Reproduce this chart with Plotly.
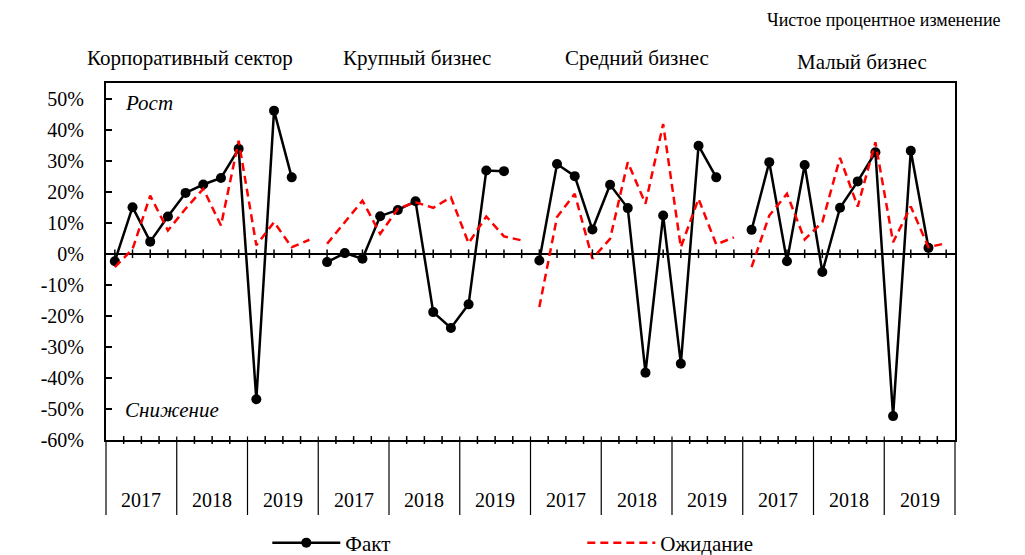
import plotly.graph_objects as go

# ---- data ----
groups = ["Корпоративный сектор", "Крупный бизнес", "Средний бизнес", "Малый бизнес"]
years = ["2017", "2018", "2019"]
quarters_per_year = 4

fact_corp = [-2.4, 15.0, 3.9, 12.0, 19.6, 22.3, 24.4, 33.8, -46.9, 46.1, 24.6]
fact_large = [-2.7, 0.2, -1.6, 12.1, 14.1, 16.9, -18.8, -23.9, -16.3, 26.8, 26.6]
fact_mid = [-2.2, 28.9, 25.0, 7.8, 22.2, 14.7, -38.3, 12.3, -35.4, 34.8, 24.6]
fact_small = [7.7, 29.5, -2.4, 28.6, -5.9, 14.8, 23.3, 32.7, -52.3, 33.2, 1.9]

exp_corp = [-4.3, 1.5, 18.7, 7.5, 14.5, 20.9, 9.1, 36.4, 2.7, 10.2, 2.1, 4.5]
exp_large = [3.2, 10.2, 17.1, 6.4, 14.5, 16.6, 14.8, 18.2, 3.4, 12.0, 5.6, 4.3]
exp_mid = [-17.2, 11.8, 19.3, -1.6, 4.8, 29.5, 16.1, 41.8, 2.1, 17.7, 3.0, 5.3]
exp_small = [-4.3, 12.3, 19.3, 4.6, 10.2, 30.9, 15.2, 35.9, 3.7, 15.2, 2.1, 3.4]

fact_series = [fact_corp, fact_large, fact_mid, fact_small]
exp_series = [exp_corp, exp_large, exp_mid, exp_small]

y_ticks = [50, 40, 30, 20, 10, 0, -10, -20, -30, -40, -50, -60]
y_ticktext = [f"{v}%" for v in y_ticks]

n_per_group = len(years) * quarters_per_year
n_total = n_per_group * len(groups)

# ---- build traces (gaps between groups) ----
fx, fy, ex, ey = [], [], [], []
for g in range(len(groups)):
    base = g * n_per_group
    for i, v in enumerate(fact_series[g]):
        fx.append(base + i); fy.append(v)
    fx.append(None); fy.append(None)
    for i, v in enumerate(exp_series[g]):
        ex.append(base + i); ey.append(v)
    ex.append(None); ey.append(None)

FONT = "Liberation Serif, Times New Roman, serif"

fig = go.Figure()
fig.add_trace(go.Scatter(
    x=fx, y=fy, mode="lines+markers", name="Факт",
    line=dict(color="black", width=2.5),
    marker=dict(symbol="circle", size=10, color="black"),
    connectgaps=False,
))
fig.add_trace(go.Scatter(
    x=ex, y=ey, mode="lines", name="Ожидание",
    line=dict(color="#FF0000", width=2.5, dash="8px,5px"),
    connectgaps=False,
))

shapes = []
# ticks on the zero line at category centres
for i in range(n_total):
    shapes.append(dict(type="line", xref="x", yref="y", x0=i, x1=i, y0=-1.4, y1=1.4,
                       line=dict(color="black", width=1.5)))
# ticks crossing the bottom axis at category boundaries
for i in range(1, n_total):
    if i % quarters_per_year == 0:
        shapes.append(dict(type="line", xref="x", yref="paper", x0=i - 0.5, x1=i - 0.5,
                           y0=0.01, y1=-0.21, line=dict(color="black", width=1.2)))
    else:
        shapes.append(dict(type="line", xref="x", yref="paper", x0=i - 0.5, x1=i - 0.5,
                           y0=-0.011, y1=0.011, line=dict(color="black", width=1.5)))
# outer edges of the category axis
for xp in (0, 1):
    shapes.append(dict(type="line", xref="paper", yref="paper", x0=xp, x1=xp,
                       y0=0, y1=-0.21, line=dict(color="black", width=1.2)))

annotations = []
# year labels
for g in range(len(groups)):
    for k, yr in enumerate(years):
        xc = g * n_per_group + k * quarters_per_year + (quarters_per_year - 1) / 2
        annotations.append(dict(text=yr, xref="x", yref="paper", x=xc, y=-0.168,
                                xanchor="center", yanchor="middle", showarrow=False,
                                font=dict(family=FONT, size=20, color="black")))
# group labels
group_x = [0.099, 0.366, 0.625, 0.89]
group_y = [1.070, 1.070, 1.070, 1.059]
for name, gx, gy in zip(groups, group_x, group_y):
    annotations.append(dict(text=name, xref="paper", yref="paper", x=gx, y=gy,
                            xanchor="center", yanchor="middle", showarrow=False,
                            font=dict(family=FONT, size=21, color="black")))
# title
annotations.append(dict(text="Чистое процентное изменение", xref="paper", yref="paper",
                        x=1.0565, y=1.176, xanchor="right", yanchor="middle", showarrow=False,
                        font=dict(family=FONT, size=18, color="black")))
annotations.append(dict(text="<i>Рост</i>", xref="paper", yref="paper", x=0.02, y=0.944,
                        xanchor="left", yanchor="middle", showarrow=False,
                        font=dict(family=FONT, size=21, color="black")))
annotations.append(dict(text="<i>Снижение</i>", xref="paper", yref="paper", x=0.02, y=0.084,
                        xanchor="left", yanchor="middle", showarrow=False,
                        font=dict(family=FONT, size=21, color="black")))

fig.update_layout(
    width=1025, height=555,
    margin=dict(l=98, r=78, t=75, b=123, autoexpand=False),
    paper_bgcolor="white", plot_bgcolor="white",
    font=dict(family=FONT, size=20, color="black"),
    showlegend=True,
    legend=dict(orientation="h", x=0.19, y=-0.2885, xanchor="left", yanchor="middle",
                itemwidth=68, entrywidthmode="pixels", entrywidth=232,
                font=dict(family=FONT, size=21, color="black"), bgcolor="rgba(0,0,0,0)"),
    xaxis=dict(range=[-0.5, n_total - 0.5], showgrid=False, zeroline=False,
               showticklabels=False, ticks="", showline=True, linecolor="black",
               linewidth=2, mirror=True, fixedrange=True),
    yaxis=dict(range=[-60, 55], tickvals=y_ticks, ticktext=y_ticktext,
               showgrid=False, zeroline=True, zerolinecolor="black", zerolinewidth=2,
               ticks="inside", ticklen=6, tickwidth=1.5, tickcolor="black",
               showline=True, linecolor="black", linewidth=2, mirror=True,
               ticklabelstandoff=16, tickfont=dict(family=FONT, size=20, color="black"),
               fixedrange=True),
    shapes=shapes,
    annotations=annotations,
)

fig.write_html("out.html")
